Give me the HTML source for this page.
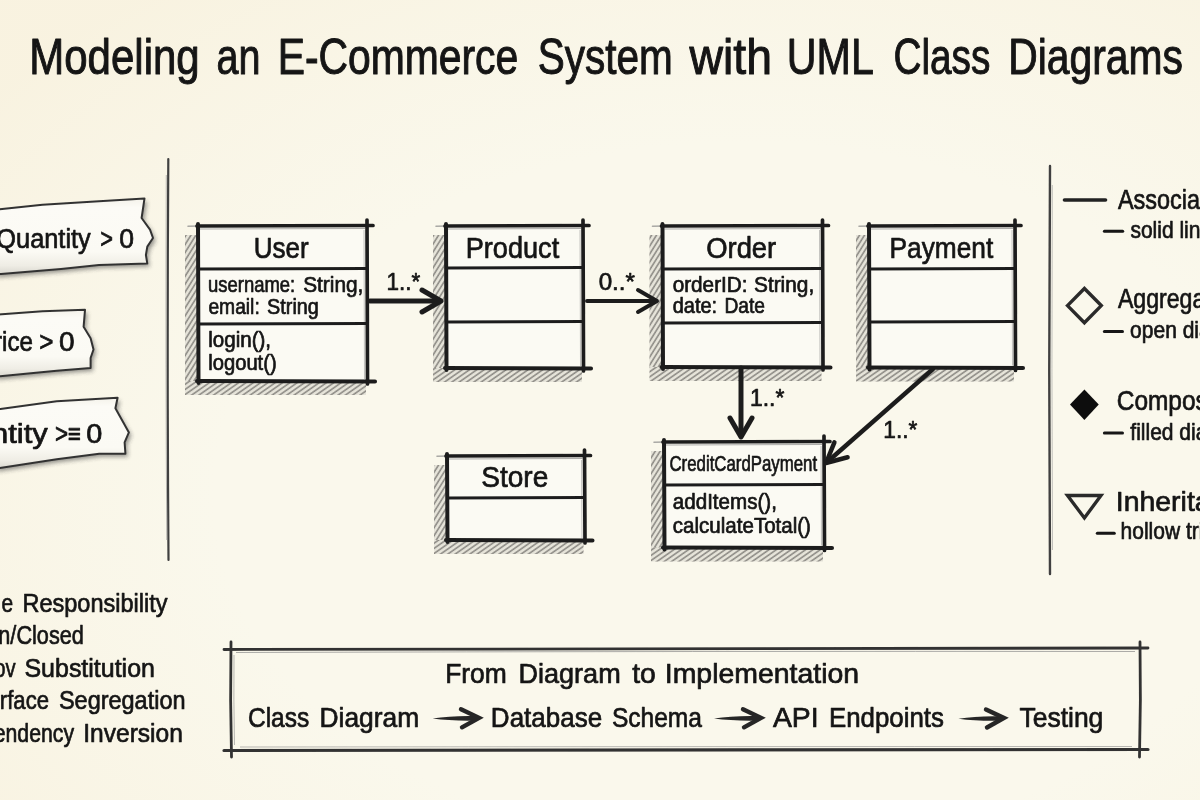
<!DOCTYPE html>
<html><head><meta charset="utf-8"><title>Modeling an E-Commerce System with UML Class Diagrams</title>
<style>
html,body{margin:0;padding:0;width:1200px;height:800px;overflow:hidden;background:#faf8ec;font-family:"Liberation Sans",sans-serif;}
</style></head><body>
<svg width="1200" height="800" viewBox="0 0 1200 800" style="display:block">
<defs>
<pattern id="hatchL" patternUnits="userSpaceOnUse" width="4.2" height="4.2" patternTransform="rotate(32)">
<line x1="1" y1="0" x2="1" y2="4.2" stroke="#8c8a84" stroke-width="1.6"/>
</pattern>
<pattern id="hatchB" patternUnits="userSpaceOnUse" width="4.2" height="4.2" patternTransform="rotate(55)">
<line x1="1" y1="0" x2="1" y2="4.2" stroke="#8c8a84" stroke-width="1.6"/>
</pattern>
<radialGradient id="vig" cx="0.62" cy="0.62" r="0.8">
<stop offset="0.55" stop-color="#f5e6c4" stop-opacity="0"/><stop offset="1" stop-color="#f3e2bd" stop-opacity="0.25"/>
</radialGradient>
<linearGradient id="noteg" x1="0" y1="0" x2="0" y2="1">
<stop offset="0" stop-color="#f4f2ea"/><stop offset="0.12" stop-color="#fcfbf6"/><stop offset="0.7" stop-color="#fbfaf4"/><stop offset="0.88" stop-color="#efede5"/><stop offset="1" stop-color="#d9d7cf"/>
</linearGradient>
<filter id="soft2" x="-2%" y="-2%" width="104%" height="104%"><feGaussianBlur stdDeviation="0.35"/></filter>
<filter id="soft" x="-10%" y="-10%" width="120%" height="120%"><feGaussianBlur stdDeviation="0.6"/></filter>
<filter id="blur3" x="-20%" y="-20%" width="140%" height="140%"><feGaussianBlur stdDeviation="2.2"/></filter>
</defs>
<rect width="1200" height="800" fill="#faf8ec"/>
<rect width="1200" height="800" fill="url(#vig)"/>
<g filter="url(#soft2)">
<path d="M185.0 235.0 H199.0 V381.0 H366.0 V395.0 H185.0 Z" fill="#d8d6cd" opacity="0.55" filter="url(#soft)"/>
<rect x="185.0" y="235.0" width="14.0" height="146.0" fill="url(#hatchL)" filter="url(#soft)"/>
<rect x="185.0" y="381.0" width="181.0" height="14.0" fill="url(#hatchB)" filter="url(#soft)"/>
<rect x="198.0" y="226.0" width="169.0" height="155.0" fill="#fbfaf3"/>
<path d="M188.0 226.3 L200.0 226.0" stroke="#888" stroke-width="1.6" fill="none" stroke-linecap="round" opacity="0.7"/>
<path d="M197.0 226.0 L373.0 225.5" stroke="#1f1f1f" stroke-width="3.7" fill="none" stroke-linecap="round"/>
<path d="M200.0 229.0 L365.0 228.5" stroke="#777" stroke-width="1" fill="none" opacity="0.6"/>
<path d="M198.0 224.0 L198.5 383.0" stroke="#1f1f1f" stroke-width="4.0" fill="none" stroke-linecap="round"/>
<path d="M367.0 220.0 L367.5 384.0" stroke="#1f1f1f" stroke-width="3.7" fill="none" stroke-linecap="round"/>
<path d="M364.0 230.0 L364.5 379.0" stroke="#888" stroke-width="1" fill="none" opacity="0.5"/>
<path d="M197.0 381.0 L375.0 381.5" stroke="#1f1f1f" stroke-width="4.1000000000000005" fill="none" stroke-linecap="round"/>
<path d="M198.0 269.0 L367.0 268.5" stroke="#1f1f1f" stroke-width="3.1" fill="none"/>
<path d="M198.0 324.0 L367.0 323.5" stroke="#1f1f1f" stroke-width="3.1" fill="none"/>
<path d="M433.0 235.0 H447.0 V368.0 H582.0 V382.0 H433.0 Z" fill="#d8d6cd" opacity="0.55" filter="url(#soft)"/>
<rect x="433.0" y="235.0" width="14.0" height="133.0" fill="url(#hatchL)" filter="url(#soft)"/>
<rect x="433.0" y="368.0" width="149.0" height="14.0" fill="url(#hatchB)" filter="url(#soft)"/>
<rect x="446.0" y="226.0" width="137.0" height="142.0" fill="#fbfaf3"/>
<path d="M436.0 226.3 L448.0 226.0" stroke="#888" stroke-width="1.6" fill="none" stroke-linecap="round" opacity="0.7"/>
<path d="M445.0 226.0 L589.0 225.5" stroke="#1f1f1f" stroke-width="3.7" fill="none" stroke-linecap="round"/>
<path d="M448.0 229.0 L581.0 228.5" stroke="#777" stroke-width="1" fill="none" opacity="0.6"/>
<path d="M446.0 224.0 L446.5 370.0" stroke="#1f1f1f" stroke-width="4.0" fill="none" stroke-linecap="round"/>
<path d="M583.0 220.0 L583.5 371.0" stroke="#1f1f1f" stroke-width="3.7" fill="none" stroke-linecap="round"/>
<path d="M580.0 230.0 L580.5 366.0" stroke="#888" stroke-width="1" fill="none" opacity="0.5"/>
<path d="M445.0 368.0 L591.0 368.5" stroke="#1f1f1f" stroke-width="4.1000000000000005" fill="none" stroke-linecap="round"/>
<path d="M446.0 268.0 L583.0 267.5" stroke="#1f1f1f" stroke-width="3.1" fill="none"/>
<path d="M446.0 322.0 L583.0 321.5" stroke="#1f1f1f" stroke-width="3.1" fill="none"/>
<path d="M649.5 235.0 H663.5 V367.0 H821.5 V381.0 H649.5 Z" fill="#d8d6cd" opacity="0.55" filter="url(#soft)"/>
<rect x="649.5" y="235.0" width="14.0" height="132.0" fill="url(#hatchL)" filter="url(#soft)"/>
<rect x="649.5" y="367.0" width="172.0" height="14.0" fill="url(#hatchB)" filter="url(#soft)"/>
<rect x="662.5" y="226.0" width="160.0" height="141.0" fill="#fbfaf3"/>
<path d="M652.5 226.3 L664.5 226.0" stroke="#888" stroke-width="1.6" fill="none" stroke-linecap="round" opacity="0.7"/>
<path d="M661.5 226.0 L828.5 225.5" stroke="#1f1f1f" stroke-width="3.7" fill="none" stroke-linecap="round"/>
<path d="M664.5 229.0 L820.5 228.5" stroke="#777" stroke-width="1" fill="none" opacity="0.6"/>
<path d="M662.5 224.0 L663.0 369.0" stroke="#1f1f1f" stroke-width="4.0" fill="none" stroke-linecap="round"/>
<path d="M822.5 220.0 L823.0 370.0" stroke="#1f1f1f" stroke-width="3.7" fill="none" stroke-linecap="round"/>
<path d="M819.5 230.0 L820.0 365.0" stroke="#888" stroke-width="1" fill="none" opacity="0.5"/>
<path d="M661.5 367.0 L830.5 367.5" stroke="#1f1f1f" stroke-width="4.1000000000000005" fill="none" stroke-linecap="round"/>
<path d="M662.5 269.0 L822.5 268.5" stroke="#1f1f1f" stroke-width="3.1" fill="none"/>
<path d="M662.5 323.0 L822.5 322.5" stroke="#1f1f1f" stroke-width="3.1" fill="none"/>
<path d="M856.0 235.0 H870.0 V367.5 H1014.0 V381.5 H856.0 Z" fill="#d8d6cd" opacity="0.55" filter="url(#soft)"/>
<rect x="856.0" y="235.0" width="14.0" height="132.5" fill="url(#hatchL)" filter="url(#soft)"/>
<rect x="856.0" y="367.5" width="158.0" height="14.0" fill="url(#hatchB)" filter="url(#soft)"/>
<rect x="869.0" y="226.0" width="146.0" height="141.5" fill="#fbfaf3"/>
<path d="M859.0 226.3 L871.0 226.0" stroke="#888" stroke-width="1.6" fill="none" stroke-linecap="round" opacity="0.7"/>
<path d="M868.0 226.0 L1021.0 225.5" stroke="#1f1f1f" stroke-width="3.7" fill="none" stroke-linecap="round"/>
<path d="M871.0 229.0 L1013.0 228.5" stroke="#777" stroke-width="1" fill="none" opacity="0.6"/>
<path d="M869.0 224.0 L869.5 369.5" stroke="#1f1f1f" stroke-width="4.0" fill="none" stroke-linecap="round"/>
<path d="M1015.0 220.0 L1015.5 370.5" stroke="#1f1f1f" stroke-width="3.7" fill="none" stroke-linecap="round"/>
<path d="M1012.0 230.0 L1012.5 365.5" stroke="#888" stroke-width="1" fill="none" opacity="0.5"/>
<path d="M868.0 367.5 L1023.0 368.0" stroke="#1f1f1f" stroke-width="4.1000000000000005" fill="none" stroke-linecap="round"/>
<path d="M869.0 269.0 L1015.0 268.5" stroke="#1f1f1f" stroke-width="3.1" fill="none"/>
<path d="M869.0 322.0 L1015.0 321.5" stroke="#1f1f1f" stroke-width="3.1" fill="none"/>
<path d="M651.0 451.0 H665.0 V547.5 H823.0 V561.5 H651.0 Z" fill="#d8d6cd" opacity="0.55" filter="url(#soft)"/>
<rect x="651.0" y="451.0" width="14.0" height="96.5" fill="url(#hatchL)" filter="url(#soft)"/>
<rect x="651.0" y="547.5" width="172.0" height="14.0" fill="url(#hatchB)" filter="url(#soft)"/>
<rect x="664.0" y="442.0" width="160.0" height="105.5" fill="#fbfaf3"/>
<path d="M654.0 442.3 L666.0 442.0" stroke="#888" stroke-width="1.6" fill="none" stroke-linecap="round" opacity="0.7"/>
<path d="M663.0 442.0 L830.0 441.5" stroke="#1f1f1f" stroke-width="3.7" fill="none" stroke-linecap="round"/>
<path d="M666.0 445.0 L822.0 444.5" stroke="#777" stroke-width="1" fill="none" opacity="0.6"/>
<path d="M664.0 440.0 L664.5 549.5" stroke="#1f1f1f" stroke-width="4.0" fill="none" stroke-linecap="round"/>
<path d="M824.0 436.0 L824.5 550.5" stroke="#1f1f1f" stroke-width="3.7" fill="none" stroke-linecap="round"/>
<path d="M821.0 446.0 L821.5 545.5" stroke="#888" stroke-width="1" fill="none" opacity="0.5"/>
<path d="M663.0 547.5 L832.0 548.0" stroke="#1f1f1f" stroke-width="4.1000000000000005" fill="none" stroke-linecap="round"/>
<path d="M664.0 485.0 L824.0 484.5" stroke="#1f1f1f" stroke-width="3.1" fill="none"/>
<path d="M434.0 465.0 H448.0 V540.0 H583.5 V554.0 H434.0 Z" fill="#d8d6cd" opacity="0.55" filter="url(#soft)"/>
<rect x="434.0" y="465.0" width="14.0" height="75.0" fill="url(#hatchL)" filter="url(#soft)"/>
<rect x="434.0" y="540.0" width="149.5" height="14.0" fill="url(#hatchB)" filter="url(#soft)"/>
<rect x="447.0" y="456.0" width="137.5" height="84.0" fill="#fbfaf3"/>
<path d="M437.0 456.3 L449.0 456.0" stroke="#888" stroke-width="1.6" fill="none" stroke-linecap="round" opacity="0.7"/>
<path d="M446.0 456.0 L590.5 455.5" stroke="#1f1f1f" stroke-width="3.7" fill="none" stroke-linecap="round"/>
<path d="M449.0 459.0 L582.5 458.5" stroke="#777" stroke-width="1" fill="none" opacity="0.6"/>
<path d="M447.0 454.0 L447.5 542.0" stroke="#1f1f1f" stroke-width="4.0" fill="none" stroke-linecap="round"/>
<path d="M584.5 450.0 L585.0 543.0" stroke="#1f1f1f" stroke-width="3.7" fill="none" stroke-linecap="round"/>
<path d="M581.5 460.0 L582.0 538.0" stroke="#888" stroke-width="1" fill="none" opacity="0.5"/>
<path d="M446.0 540.0 L592.5 540.5" stroke="#1f1f1f" stroke-width="4.1000000000000005" fill="none" stroke-linecap="round"/>
<path d="M447.0 498.0 L584.5 497.5" stroke="#1f1f1f" stroke-width="3.1" fill="none"/>
<path d="M370.0 301.0 L439.0 301.0" stroke="#1f1f1f" stroke-width="5" fill="none" stroke-linecap="round"/>
<path d="M422.0 312.0 L441.0 301.0 L422.0 290.0" stroke="#1f1f1f" stroke-width="5" fill="none" stroke-linecap="round" stroke-linejoin="round"/>
<path d="M587.0 301.0 L655.0 301.0" stroke="#1f1f1f" stroke-width="4" fill="none" stroke-linecap="round"/>
<path d="M638.0 312.0 L657.0 301.0 L638.0 290.0" stroke="#1f1f1f" stroke-width="4" fill="none" stroke-linecap="round" stroke-linejoin="round"/>
<path d="M741.0 368.0 L741.0 435.0" stroke="#1f1f1f" stroke-width="5" fill="none" stroke-linecap="round"/>
<path d="M730.0 418.0 L741.0 437.0 L752.0 418.0" stroke="#1f1f1f" stroke-width="5" fill="none" stroke-linecap="round" stroke-linejoin="round"/>
<path d="M933.0 369.0 L827.5 461.7" stroke="#1f1f1f" stroke-width="4.5" fill="none" stroke-linecap="round"/>
<path d="M834.4 442.3 L826.0 463.0 L847.6 457.3" stroke="#1f1f1f" stroke-width="4.5" fill="none" stroke-linecap="round" stroke-linejoin="round"/>
<path d="M168.3 159 Q167 360 168.5 560" stroke="#404040" stroke-width="2.2" fill="none" stroke-linecap="round"/>
<path d="M166.3 175 Q165.5 360 166.8 540" stroke="#999" stroke-width="1" fill="none" opacity="0.7"/>
<path d="M1050 166 Q1048.5 370 1050 574" stroke="#404040" stroke-width="2.4" fill="none" stroke-linecap="round"/>
<path d="M1052.3 185 Q1051.5 370 1052.5 550" stroke="#999" stroke-width="1" fill="none" opacity="0.6"/>
<path d="M-5 209.7 L42.5 204.8 L99 201.2 L144.5 198.4 L141.6 218 L150 229.6 L153 238 L147.3 246.6 L145.9 255 L147.3 263.6 L99 265 L61 269 L-5 274.5 Z" fill="#444" opacity="0.55" transform="translate(2.5,3)" filter="url(#blur3)"/>
<path d="M-5 209.7 L42.5 204.8 L99 201.2 L144.5 198.4 L141.6 218 L150 229.6 L153 238 L147.3 246.6 L145.9 255 L147.3 263.6 L99 265 L61 269 L-5 274.5 Z" fill="url(#noteg)" stroke="#333" stroke-width="2" stroke-linejoin="round"/>
<path d="M-5 314.8 L42.5 311.2 L85 309.8 L83.6 326.8 L90.6 338.2 L93.5 349.5 L90.6 358 L90.6 368 L56.7 370.7 L28.3 373.6 L-5 376.8 Z" fill="#444" opacity="0.55" transform="translate(2.5,3)" filter="url(#blur3)"/>
<path d="M-5 314.8 L42.5 311.2 L85 309.8 L83.6 326.8 L90.6 338.2 L93.5 349.5 L90.6 358 L90.6 368 L56.7 370.7 L28.3 373.6 L-5 376.8 Z" fill="url(#noteg)" stroke="#333" stroke-width="2" stroke-linejoin="round"/>
<path d="M-5 409.7 L56.7 401.2 L117.6 397.7 L115.4 408.3 L121.8 419.7 L128.9 432.4 L124.6 442.3 L125.4 453.7 L99.2 453.7 L56.7 459.3 L-5 468.8 Z" fill="#444" opacity="0.55" transform="translate(2.5,3)" filter="url(#blur3)"/>
<path d="M-5 409.7 L56.7 401.2 L117.6 397.7 L115.4 408.3 L121.8 419.7 L128.9 432.4 L124.6 442.3 L125.4 453.7 L99.2 453.7 L56.7 459.3 L-5 468.8 Z" fill="url(#noteg)" stroke="#333" stroke-width="2" stroke-linejoin="round"/>
<path d="M1064.5 200 L1105.5 200" stroke="#222" stroke-width="3.6" stroke-linecap="round"/>
<path d="M1104.4 231.2 L1122.7 231.2" stroke="#151515" stroke-width="3" stroke-linecap="round"/>
<path d="M1104.4 331.5 L1122.5 331.5" stroke="#151515" stroke-width="3" stroke-linecap="round"/>
<path d="M1104.4 433 L1122.5 433" stroke="#151515" stroke-width="3" stroke-linecap="round"/>
<path d="M1097.3 533.2 L1114.3 533.2" stroke="#151515" stroke-width="3" stroke-linecap="round"/>
<path d="M1067.5 305.6 L1084.4 288.5 L1101.3 305.6 L1084.4 322.8 Z" fill="none" stroke="#2a2a2a" stroke-width="3.4" stroke-linejoin="miter"/>
<path d="M1070 404.4 L1084.4 389.4 L1098.75 404.4 L1084.4 420 Z" fill="#111"/>
<path d="M1067.5 495.5 L1101 495.5 L1084.4 518 Z" fill="none" stroke="#2a2a2a" stroke-width="3.4" stroke-linejoin="miter"/>
<path d="M224 649.5 Q700 647.5 1148 648" stroke="#333" stroke-width="2.8" fill="none" stroke-linecap="round"/>
<path d="M236 652.5 Q700 651 1135 651.5" stroke="#8a8a8a" stroke-width="1" fill="none" opacity="0.7"/>
<path d="M224 750.5 Q700 750 1148 749.5" stroke="#333" stroke-width="3.2" fill="none" stroke-linecap="round"/>
<path d="M240 747 Q700 746.5 1132 746.5" stroke="#8a8a8a" stroke-width="1" fill="none" opacity="0.6"/>
<path d="M231 642 Q230 700 231.5 757" stroke="#333" stroke-width="2.8" fill="none" stroke-linecap="round"/>
<path d="M234 655 Q233.5 700 234.5 745" stroke="#8a8a8a" stroke-width="1" fill="none" opacity="0.6"/>
<path d="M1140 642 Q1141 700 1139.5 757" stroke="#333" stroke-width="2.8" fill="none" stroke-linecap="round"/>
<path d="M432.6 718.5999999999999 Q450.55 715.5 475.5 716.0 L475.5 720.5999999999999 Q450.55 721.0 432.6 718.5999999999999 Z" fill="#262626"/>
<path d="M461.0 709.3 L479.0 717.8 L462.0 727.3" stroke="#262626" stroke-width="4.4" fill="none" stroke-linecap="round" stroke-linejoin="miter"/>
<path d="M714 718.5999999999999 Q732.25 715.5 757.5 716.0 L757.5 720.5999999999999 Q732.25 721.0 714 718.5999999999999 Z" fill="#262626"/>
<path d="M743.0 709.3 L761.0 717.8 L744.0 727.3" stroke="#262626" stroke-width="4.4" fill="none" stroke-linecap="round" stroke-linejoin="miter"/>
<path d="M958.5 718.8 Q976.0 715.7 1000.5 716.2 L1000.5 720.8 Q976.0 721.2 958.5 718.8 Z" fill="#262626"/>
<path d="M986.0 709.5 L1004.0 718 L987.0 727.5" stroke="#262626" stroke-width="4.4" fill="none" stroke-linecap="round" stroke-linejoin="miter"/>
</g>
<g font-family="Liberation Sans, sans-serif" stroke="#151515" stroke-width="0.7" stroke-linejoin="round">
<text x="29.25" y="74.20" font-size="50" textLength="170.45" lengthAdjust="spacingAndGlyphs" fill="#151515" stroke-width="1">Modeling</text>
<text x="216.62" y="74.20" font-size="50" textLength="43.94" lengthAdjust="spacingAndGlyphs" fill="#151515" stroke-width="1">an</text>
<text x="277.65" y="74.20" font-size="50" textLength="240.57" lengthAdjust="spacingAndGlyphs" fill="#151515" stroke-width="1">E-Commerce</text>
<text x="537.66" y="74.20" font-size="50" textLength="135.01" lengthAdjust="spacingAndGlyphs" fill="#151515" stroke-width="1">System</text>
<text x="689.57" y="74.20" font-size="50" textLength="82.44" lengthAdjust="spacingAndGlyphs" fill="#151515" stroke-width="1">with</text>
<text x="786.82" y="74.20" font-size="50" textLength="87.05" lengthAdjust="spacingAndGlyphs" fill="#151515" stroke-width="1">UML</text>
<text x="893.43" y="74.20" font-size="50" textLength="96.97" lengthAdjust="spacingAndGlyphs" fill="#151515" stroke-width="1">Class</text>
<text x="1008.25" y="74.20" font-size="50" textLength="174.73" lengthAdjust="spacingAndGlyphs" fill="#151515" stroke-width="1">Diagrams</text>
<text x="253.79" y="258.20" font-size="29" textLength="54.94" lengthAdjust="spacingAndGlyphs" fill="#151515">User</text>
<text x="465.78" y="258.30" font-size="29" textLength="93.42" lengthAdjust="spacingAndGlyphs" fill="#151515">Product</text>
<text x="706.20" y="258.30" font-size="29" textLength="70.05" lengthAdjust="spacingAndGlyphs" fill="#151515">Order</text>
<text x="889.55" y="258.30" font-size="29" textLength="103.65" lengthAdjust="spacingAndGlyphs" fill="#151515">Payment</text>
<text x="481.23" y="486.50" font-size="29" textLength="67.02" lengthAdjust="spacingAndGlyphs" fill="#151515">Store</text>
<text x="669.45" y="471.30" font-size="22" textLength="147.68" lengthAdjust="spacingAndGlyphs" fill="#151515">CreditCardPayment</text>
<text x="208.00" y="292.20" font-size="21.5" textLength="87.18" lengthAdjust="spacingAndGlyphs" fill="#151515">username:</text>
<text x="303.15" y="292.20" font-size="21.5" textLength="60.22" lengthAdjust="spacingAndGlyphs" fill="#151515">String,</text>
<text x="208.38" y="313.50" font-size="21.5" textLength="51.38" lengthAdjust="spacingAndGlyphs" fill="#151515">email:</text>
<text x="267.10" y="313.50" font-size="21.5" textLength="51.78" lengthAdjust="spacingAndGlyphs" fill="#151515">String</text>
<text x="208.21" y="347.00" font-size="21.5" textLength="62.83" lengthAdjust="spacingAndGlyphs" fill="#151515">login(),</text>
<text x="208.24" y="370.40" font-size="21.5" textLength="68.41" lengthAdjust="spacingAndGlyphs" fill="#151515">logout()</text>
<text x="672.63" y="292.00" font-size="21.5" textLength="74.97" lengthAdjust="spacingAndGlyphs" fill="#151515">orderID:</text>
<text x="754.06" y="292.00" font-size="21.5" textLength="60.11" lengthAdjust="spacingAndGlyphs" fill="#151515">String,</text>
<text x="672.66" y="312.80" font-size="21.5" textLength="44.46" lengthAdjust="spacingAndGlyphs" fill="#151515">date:</text>
<text x="724.42" y="312.80" font-size="21.5" textLength="40.63" lengthAdjust="spacingAndGlyphs" fill="#151515">Date</text>
<text x="672.83" y="509.30" font-size="21.5" textLength="104.02" lengthAdjust="spacingAndGlyphs" fill="#151515">addItems(),</text>
<text x="672.84" y="533.30" font-size="21.5" textLength="138.11" lengthAdjust="spacingAndGlyphs" fill="#151515">calculateTotal()</text>
<text x="386.59" y="290.00" font-size="24" textLength="33.77" lengthAdjust="spacingAndGlyphs" fill="#151515">1..*</text>
<text x="598.65" y="290.40" font-size="24" textLength="36.32" lengthAdjust="spacingAndGlyphs" fill="#151515">0..*</text>
<text x="749.95" y="405.80" font-size="24" textLength="34.40" lengthAdjust="spacingAndGlyphs" fill="#151515">1..*</text>
<text x="883.27" y="438.00" font-size="24" textLength="34.08" lengthAdjust="spacingAndGlyphs" fill="#151515">1..*</text>
<text x="-3.70" y="247.50" font-size="27" textLength="94.45" lengthAdjust="spacingAndGlyphs" fill="#151515">Quantity</text>
<text x="100.22" y="247.50" font-size="27" textLength="12.74" lengthAdjust="spacingAndGlyphs" fill="#151515">&gt;</text>
<text x="119.36" y="247.50" font-size="27" textLength="14.78" lengthAdjust="spacingAndGlyphs" fill="#151515">0</text>
<text x="-5.96" y="351.00" font-size="27" textLength="38.94" lengthAdjust="spacingAndGlyphs" fill="#151515">rice</text>
<text x="39.20" y="351.00" font-size="27" textLength="14.18" lengthAdjust="spacingAndGlyphs" fill="#151515">&gt;</text>
<text x="59.11" y="351.00" font-size="27" textLength="15.59" lengthAdjust="spacingAndGlyphs" fill="#151515">0</text>
<text x="-9.02" y="443.00" font-size="27" textLength="56.88" lengthAdjust="spacingAndGlyphs" fill="#151515">ntity</text>
<text x="54.89" y="443.00" font-size="27" textLength="26.20" lengthAdjust="spacingAndGlyphs" fill="#151515">&gt;≡</text>
<text x="86.37" y="443.00" font-size="27" textLength="16.06" lengthAdjust="spacingAndGlyphs" fill="#151515">0</text>
<text x="1.51" y="611.50" font-size="26.5" textLength="11.62" lengthAdjust="spacingAndGlyphs" fill="#151515">e</text>
<text x="22.47" y="611.50" font-size="26.5" textLength="145.07" lengthAdjust="spacingAndGlyphs" fill="#151515">Responsibility</text>
<text x="-1.69" y="644.30" font-size="26.5" textLength="85.58" lengthAdjust="spacingAndGlyphs" fill="#151515">n/Closed</text>
<text x="-5.75" y="676.90" font-size="26.5" textLength="21.42" lengthAdjust="spacingAndGlyphs" fill="#151515">ov</text>
<text x="24.47" y="676.90" font-size="26.5" textLength="130.45" lengthAdjust="spacingAndGlyphs" fill="#151515">Substitution</text>
<text x="-0.18" y="709.30" font-size="26.5" textLength="49.16" lengthAdjust="spacingAndGlyphs" fill="#151515">rface</text>
<text x="58.93" y="709.30" font-size="26.5" textLength="126.59" lengthAdjust="spacingAndGlyphs" fill="#151515">Segregation</text>
<text x="-6.34" y="742.30" font-size="26.5" textLength="80.38" lengthAdjust="spacingAndGlyphs" fill="#151515">endency</text>
<text x="83.23" y="742.30" font-size="26.5" textLength="99.66" lengthAdjust="spacingAndGlyphs" fill="#151515">Inversion</text>
<text x="1117.95" y="208.90" font-size="28" textLength="119.83" lengthAdjust="spacingAndGlyphs" fill="#151515">Association</text>
<text x="1117.95" y="308.40" font-size="28" textLength="124.66" lengthAdjust="spacingAndGlyphs" fill="#151515">Aggregation</text>
<text x="1116.76" y="409.70" font-size="28" textLength="135.81" lengthAdjust="spacingAndGlyphs" fill="#151515">Composition</text>
<text x="1115.78" y="511.20" font-size="28" textLength="140.70" lengthAdjust="spacingAndGlyphs" fill="#151515">Inheritance</text>
<text x="1130.42" y="238.20" font-size="24" textLength="81.72" lengthAdjust="spacingAndGlyphs" fill="#151515">solid line</text>
<text x="1130.12" y="337.70" font-size="24" textLength="133.12" lengthAdjust="spacingAndGlyphs" fill="#151515">open diamond</text>
<text x="1130.30" y="439.50" font-size="24" textLength="129.59" lengthAdjust="spacingAndGlyphs" fill="#151515">filled diamond</text>
<text x="1120.54" y="539.20" font-size="24" textLength="134.25" lengthAdjust="spacingAndGlyphs" fill="#151515">hollow triangle</text>
<text x="445.13" y="682.50" font-size="28" textLength="61.61" lengthAdjust="spacingAndGlyphs" fill="#151515">From</text>
<text x="518.48" y="682.50" font-size="28" textLength="102.20" lengthAdjust="spacingAndGlyphs" fill="#151515">Diagram</text>
<text x="632.17" y="682.50" font-size="28" textLength="23.62" lengthAdjust="spacingAndGlyphs" fill="#151515">to</text>
<text x="664.78" y="682.50" font-size="28" textLength="194.37" lengthAdjust="spacingAndGlyphs" fill="#151515">Implementation</text>
<text x="247.96" y="727.30" font-size="28" textLength="61.23" lengthAdjust="spacingAndGlyphs" fill="#151515">Class</text>
<text x="319.54" y="727.30" font-size="28" textLength="99.70" lengthAdjust="spacingAndGlyphs" fill="#151515">Diagram</text>
<text x="490.87" y="727.30" font-size="28" textLength="111.29" lengthAdjust="spacingAndGlyphs" fill="#151515">Database</text>
<text x="611.88" y="727.30" font-size="28" textLength="90.12" lengthAdjust="spacingAndGlyphs" fill="#151515">Schema</text>
<text x="772.94" y="727.30" font-size="28" textLength="45.67" lengthAdjust="spacingAndGlyphs" fill="#151515">API</text>
<text x="828.88" y="727.30" font-size="28" textLength="115.06" lengthAdjust="spacingAndGlyphs" fill="#151515">Endpoints</text>
<text x="1019.43" y="727.30" font-size="28" textLength="83.92" lengthAdjust="spacingAndGlyphs" fill="#151515">Testing</text>
</g>
</svg>
</body></html>
